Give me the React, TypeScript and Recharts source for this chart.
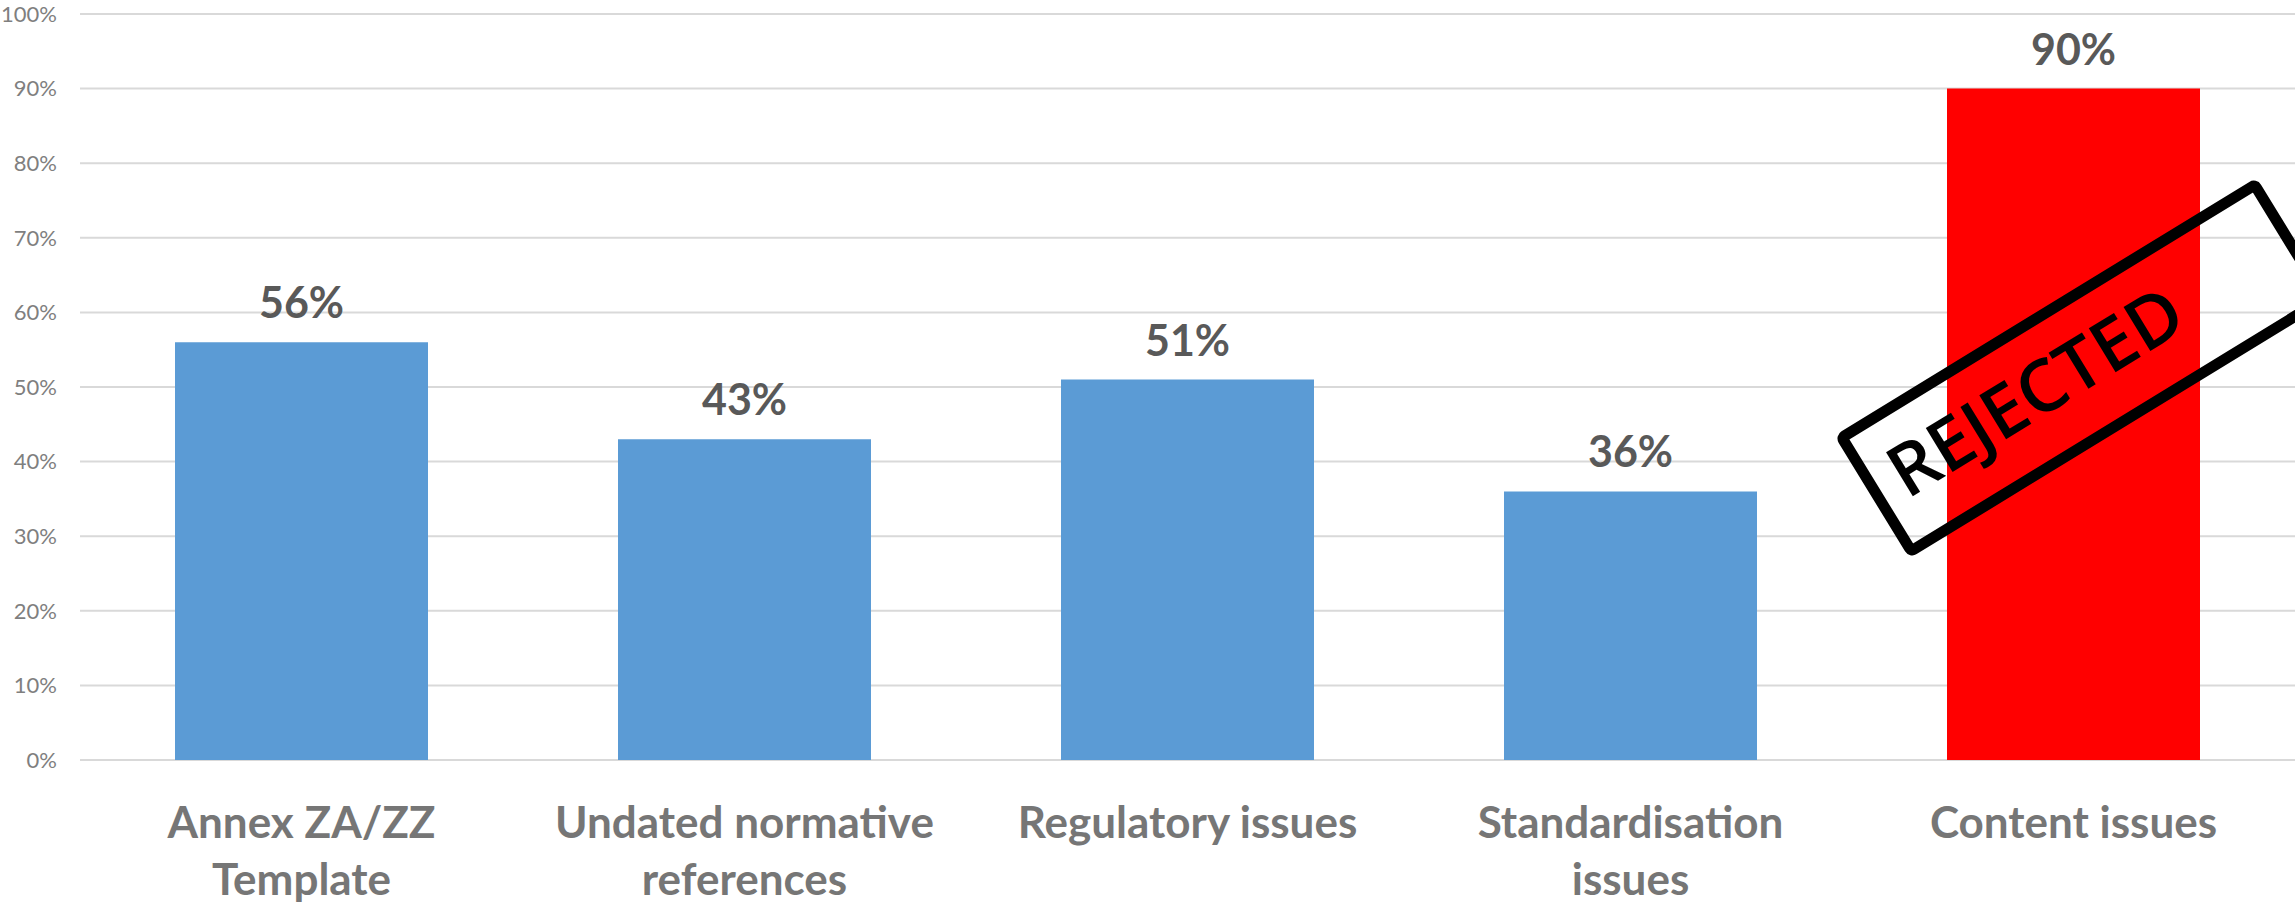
import { BarChart, Bar, XAxis, YAxis, CartesianGrid, Cell, LabelList } from "recharts";

const categories = [
  "Annex ZA/ZZ\nTemplate",
  "Undated normative\nreferences",
  "Regulatory issues",
  "Standardisation\nissues",
  "Content issues",
];
const shares = [56, 43, 51, 36, 90];
const yTicks = [0, 10, 20, 30, 40, 50, 60, 70, 80, 90, 100];
const rejected = "Content issues";

const data = categories.map((name, i) => ({ name, value: shares[i] }));

const W = 2295;
const H = 905;

function CategoryTick({ x, y, payload }: any) {
  const lines = String(payload.value).split("\n");
  return (
    <text
      x={x}
      y={y}
      textAnchor="middle"
      fill="#767676"
      fontFamily="Lato"
      fontWeight={700}
      fontSize={44}
    >
      {lines.map((line, i) => (
        <tspan key={i} x={x} dy={i === 0 ? 78 : 57}>
          {line}
        </tspan>
      ))}
    </text>
  );
}

export default function App() {
  return (
    <div style={{ position: "absolute", left: 0, top: 0, width: W, height: H, background: "#fff" }}>
      <BarChart
        width={W}
        height={H}
        data={data}
        margin={{ top: 14, right: 0, left: 0, bottom: 0 }}
      >
        <CartesianGrid vertical={false} stroke="#d9d9d9" strokeWidth={2} />
        <XAxis
          dataKey="name"
          interval={0}
          height={145}
          axisLine={false}
          tickLine={false}
          tickSize={0}
          tickMargin={0}
          tick={<CategoryTick />}
        />
        <YAxis
          width={80}
          domain={[0, 100]}
          ticks={yTicks}
          tickFormatter={(v) => `${v}%`}
          axisLine={false}
          tickLine={false}
          tickSize={0}
          tickMargin={23}
          tick={{ fontFamily: "Lato", fontSize: 22, fill: "#7f7f7f" }}
        />
        <Bar dataKey="value" barSize={253} isAnimationActive={false}>
          {data.map((d) => (
            <Cell key={d.name} fill={d.name === rejected ? "#ff0000" : "#5b9bd5"} />
          ))}
          <LabelList
            dataKey="value"
            position="top"
            offset={24}
            formatter={(v: any) => `${v}%`}
            fill="#595959"
            fontFamily="Lato"
            fontWeight={700}
            fontSize={43}
          />
        </Bar>
      </BarChart>
      <svg
        width={W}
        height={H}
        style={{ position: "absolute", left: 0, top: 0, pointerEvents: "none" }}
      >
        {/* rubber stamp over the last bar */}
        <g transform="translate(2083 368) rotate(-31.45)">
          <rect
            x={-242}
            y={-66.5}
            width={484}
            height={133}
            rx={3}
            fill="none"
            stroke="#000"
            strokeWidth={11}
            strokeLinejoin="round"
          />
        </g>
        <g transform="translate(2035 391) rotate(-31.45)">
          <text
            x={0}
            y={26}
            textAnchor="middle"
            fontFamily="Open Sans"
            fontWeight={600}
            fontSize={72}
            fill="#000"
            textLength={332}
            lengthAdjust="spacingAndGlyphs"
          >
            REJECTED
          </text>
        </g>
      </svg>
    </div>
  );
}
